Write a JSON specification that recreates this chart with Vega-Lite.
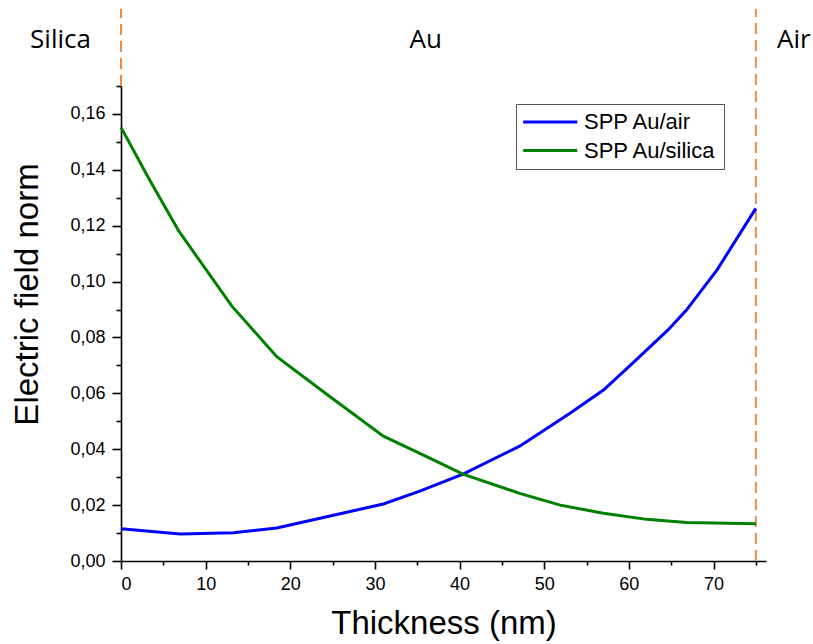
{
  "$schema": "https://vega.github.io/schema/vega-lite/v6.json",
  "autosize": "none",
  "width": 645,
  "height": 475,
  "padding": {"left": 121, "top": 86, "right": 47, "bottom": 83},
  "background": "white",
  "config": {
    "view": {"stroke": null},
    "axis": {
      "domainColor": "#000000",
      "domainWidth": 1.6,
      "tickColor": "#000000",
      "tickWidth": 1.6,
      "labelColor": "#000000",
      "titleColor": "#000000",
      "labelFont": "Liberation Sans",
      "titleFont": "Liberation Sans",
      "titleFontWeight": "normal",
      "grid": false,
      "zindex": 1
    }
  },
  "datasets": {
    "curves": [
      {"series": "SPP Au/air", "x": 0, "y": 0.0115},
      {"series": "SPP Au/air", "x": 7, "y": 0.0097},
      {"series": "SPP Au/air", "x": 13.3, "y": 0.0101},
      {"series": "SPP Au/air", "x": 18.4, "y": 0.0118},
      {"series": "SPP Au/air", "x": 24.7, "y": 0.0161},
      {"series": "SPP Au/air", "x": 31, "y": 0.0204},
      {"series": "SPP Au/air", "x": 35.3, "y": 0.025},
      {"series": "SPP Au/air", "x": 40.4, "y": 0.0311},
      {"series": "SPP Au/air", "x": 47.1, "y": 0.0411},
      {"series": "SPP Au/air", "x": 53, "y": 0.0528},
      {"series": "SPP Au/air", "x": 57, "y": 0.0612},
      {"series": "SPP Au/air", "x": 60.1, "y": 0.0698},
      {"series": "SPP Au/air", "x": 64.6, "y": 0.0826},
      {"series": "SPP Au/air", "x": 66.8, "y": 0.0898},
      {"series": "SPP Au/air", "x": 70.4, "y": 0.1041},
      {"series": "SPP Au/air", "x": 75, "y": 0.1262},
      {"series": "SPP Au/silica", "x": 0, "y": 0.1552},
      {"series": "SPP Au/silica", "x": 3.4, "y": 0.1363},
      {"series": "SPP Au/silica", "x": 6.8, "y": 0.1182},
      {"series": "SPP Au/silica", "x": 13.1, "y": 0.0912},
      {"series": "SPP Au/silica", "x": 18.4, "y": 0.0731},
      {"series": "SPP Au/silica", "x": 24.7, "y": 0.0588},
      {"series": "SPP Au/silica", "x": 31, "y": 0.0447},
      {"series": "SPP Au/silica", "x": 35.3, "y": 0.0385},
      {"series": "SPP Au/silica", "x": 40.4, "y": 0.0311},
      {"series": "SPP Au/silica", "x": 47.1, "y": 0.0242},
      {"series": "SPP Au/silica", "x": 51.9, "y": 0.02},
      {"series": "SPP Au/silica", "x": 57, "y": 0.0171},
      {"series": "SPP Au/silica", "x": 62.1, "y": 0.0149},
      {"series": "SPP Au/silica", "x": 66.8, "y": 0.0138},
      {"series": "SPP Au/silica", "x": 75, "y": 0.0133}
    ],
    "interfaces": [
      {"x": 0, "y0": 0.17, "y1": 0.1976},
      {"x": 75, "y0": 0, "y1": 0.1976}
    ],
    "regions": [
      {"label": "Silica", "x": -7.15, "y": 0.1836},
      {"label": "Au", "x": 36, "y": 0.1836},
      {"label": "Air", "x": 79.5, "y": 0.1836}
    ]
  },
  "layer": [
    {
      "data": {"name": "interfaces"},
      "mark": {"type": "rule", "color": "#f28a3c", "strokeWidth": 2, "strokeDash": [11, 6]},
      "encoding": {
        "x": {"field": "x", "type": "quantitative", "scale": {"domain": [0, 76.2], "nice": false, "zero": false},
          "axis": {"orient": "bottom", "values": [5, 15, 25, 35, 45, 55, 65, 75], "labels": false, "title": null, "domain": false, "tickSize": 4}},
        "y": {"field": "y0", "type": "quantitative", "scale": {"domain": [0, 0.17], "nice": false, "zero": false},
          "axis": {"orient": "left", "values": [0.01, 0.03, 0.05, 0.07, 0.09, 0.11, 0.13, 0.15, 0.17], "labels": false, "title": null, "domain": false, "tickSize": 5}},
        "y2": {"field": "y1"}
      }
    },
    {
      "data": {"name": "curves"},
      "mark": {"type": "line", "strokeWidth": 3},
      "encoding": {
        "x": {"field": "x", "type": "quantitative", "scale": {"domain": [0, 76.2], "nice": false, "zero": false},
          "axis": {"orient": "bottom", "values": [0, 10, 20, 30, 40, 50, 60, 70], "format": "d", "tickSize": 8, "labelFontSize": 18, "labelPadding": 6,
            "title": "Thickness (nm)", "titleFontSize": 33, "titlePadding": 14}},
        "y": {"field": "y", "type": "quantitative", "scale": {"domain": [0, 0.17], "nice": false, "zero": false},
          "axis": {"orient": "left", "values": [0, 0.02, 0.04, 0.06, 0.08, 0.1, 0.12, 0.14, 0.16], "tickSize": 9, "labelFontSize": 18, "labelPadding": 7,
            "labelExpr": "replace(format(datum.value, '.2f'), '.', ',')",
            "title": "Electric field norm", "titleFontSize": 33, "titlePadding": 25, "titleY": 208}},
        "color": {"field": "series", "type": "nominal",
          "scale": {"domain": ["SPP Au/air", "SPP Au/silica"], "range": ["#0000ff", "#008000"]},
          "legend": {"title": null, "orient": "none", "legendX": 395, "legendY": 18,
            "symbolType": "M-2,0H8", "symbolSize": 117, "symbolStrokeWidth": 3,
            "labelFont": "Liberation Sans", "labelFontSize": 22, "labelColor": "#000000", "labelOffset": 39,
            "rowPadding": 6.5, "padding": 7, "strokeColor": "#555555", "fillColor": "white"}}
      }
    },
    {
      "data": {"name": "regions"},
      "mark": {"type": "text", "font": "Open Sans", "fontSize": 26, "color": "#000000", "baseline": "alphabetic", "align": "center"},
      "encoding": {
        "x": {"field": "x", "type": "quantitative", "scale": {"domain": [0, 76.2], "nice": false, "zero": false}, "axis": null},
        "y": {"field": "y", "type": "quantitative", "scale": {"domain": [0, 0.17], "nice": false, "zero": false}, "axis": null},
        "text": {"field": "label"}
      }
    }
  ],
  "resolve": {"axis": {"x": "independent", "y": "independent"}}
}
